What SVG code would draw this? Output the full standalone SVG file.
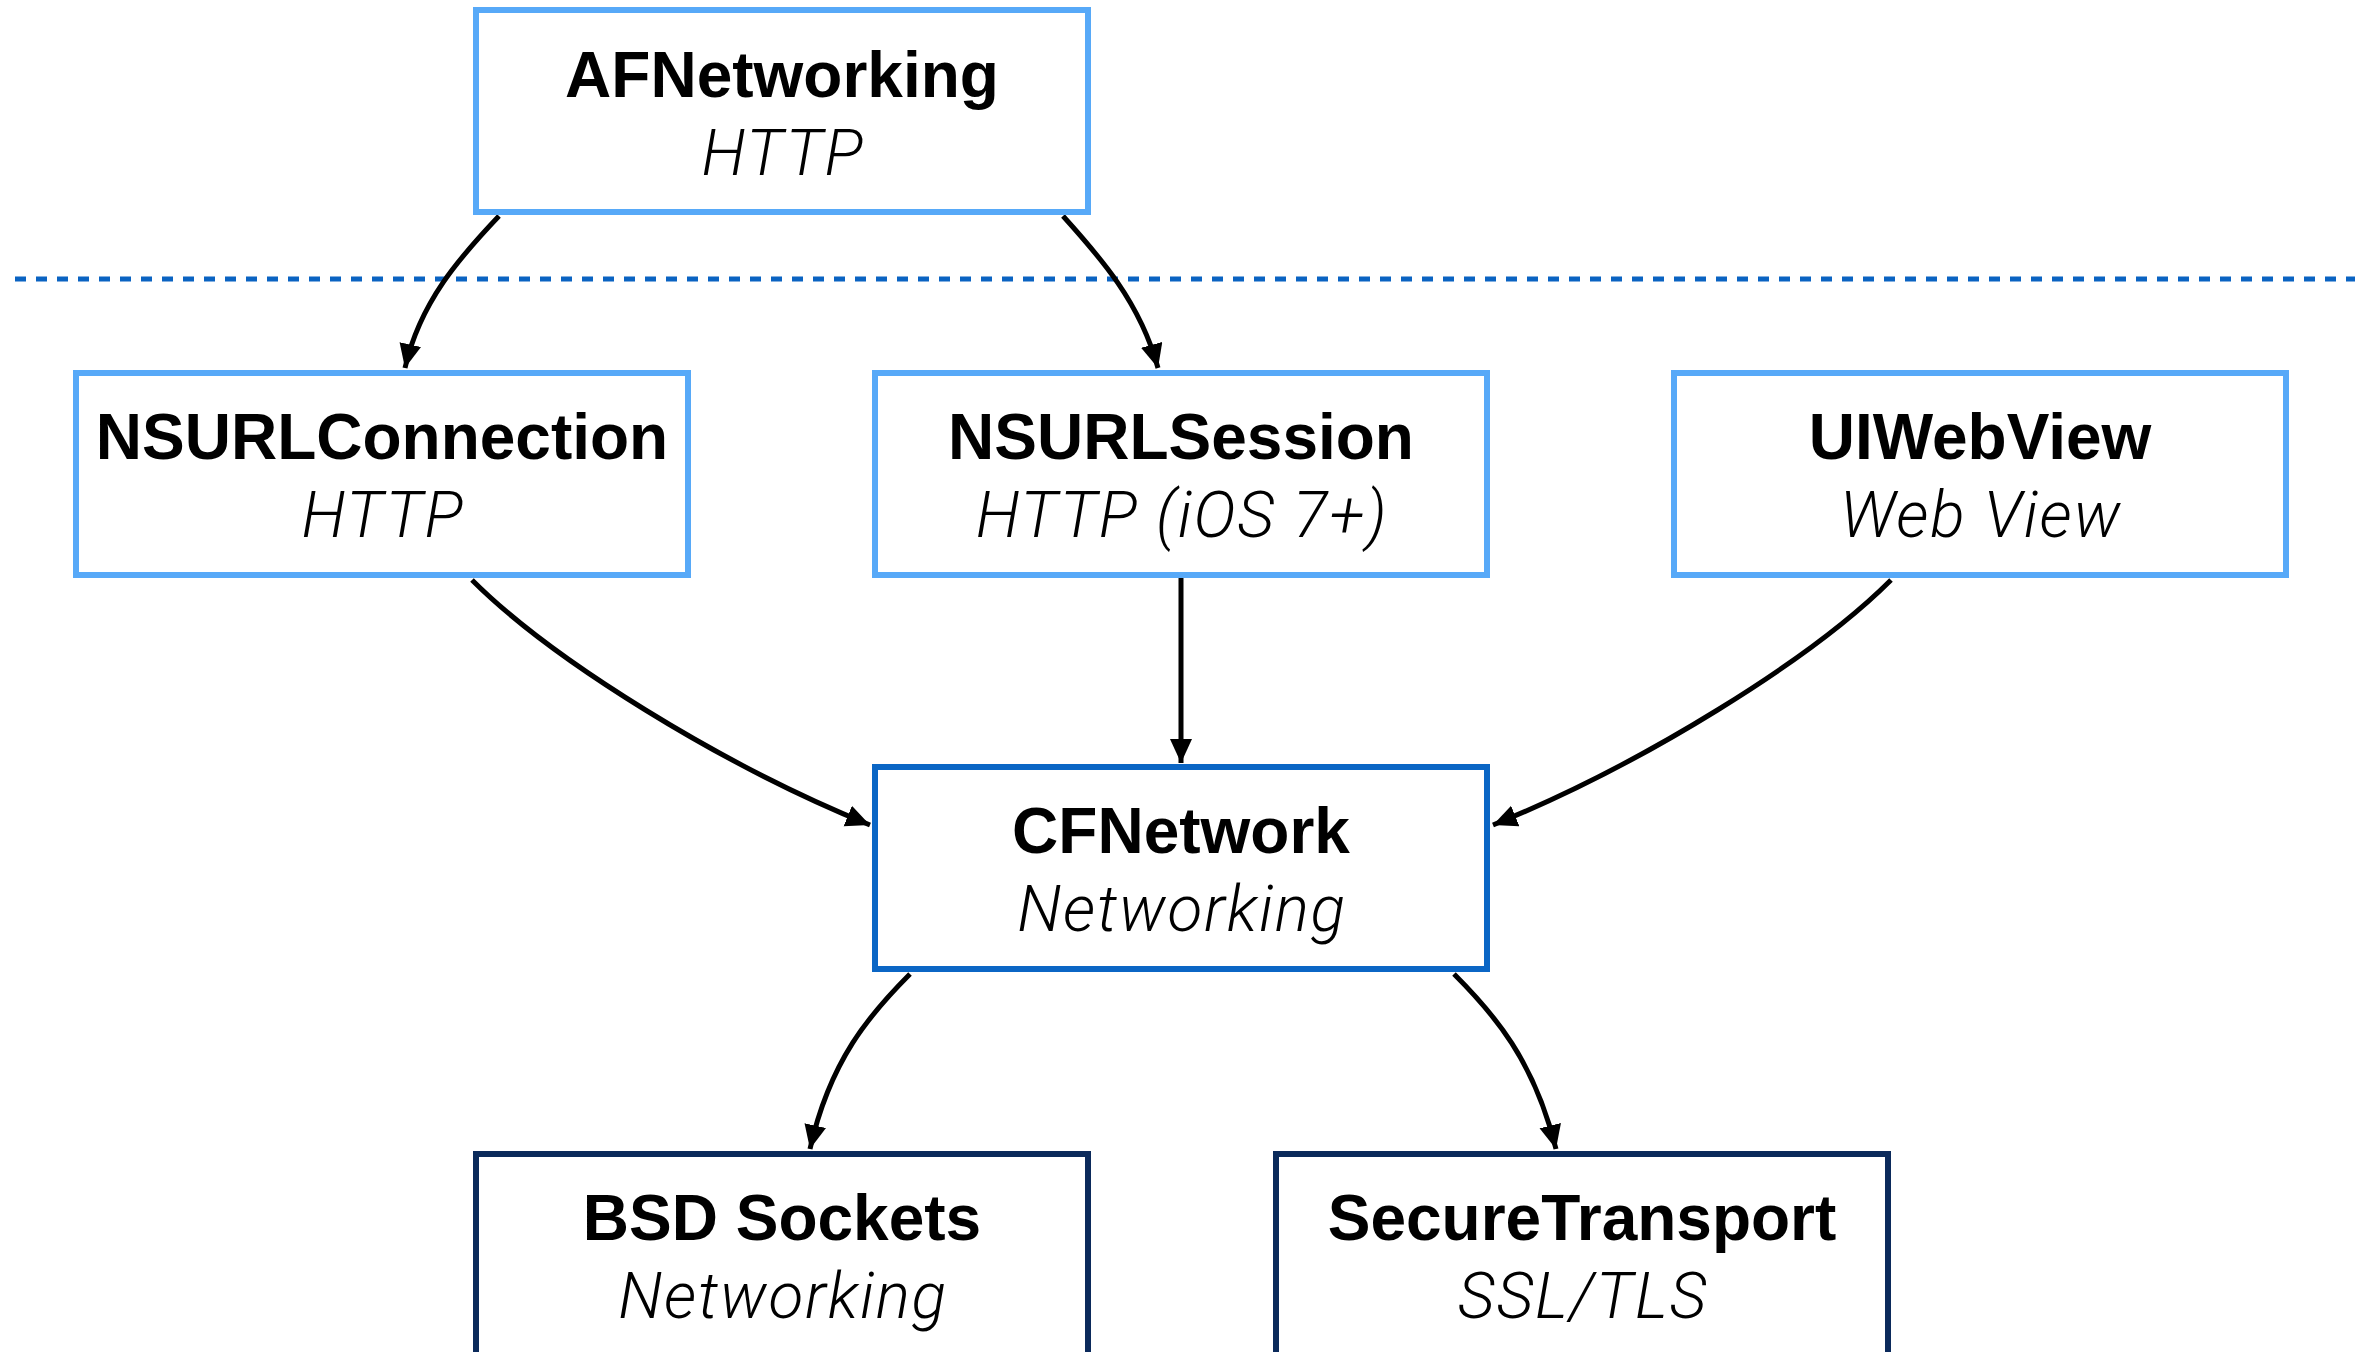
<svg xmlns="http://www.w3.org/2000/svg" width="2355" height="1352" viewBox="0 0 2355 1352">
<defs>
<style>
.box{fill:#ffffff;stroke-width:6}
.light{stroke:#57A9F8}
.mid{stroke:#0B66C5}
.dark{stroke:#0B2A5B}
.t{font-family:"Liberation Sans",Arial,sans-serif;font-weight:bold;font-size:64px;fill:#000;text-anchor:middle}
.s{font-family:Roboto,"Liberation Sans",sans-serif;font-weight:300;font-style:italic;font-size:64px;letter-spacing:1.8px;fill:#000;text-anchor:middle}
.c{fill:none;stroke:#000;stroke-width:5}
</style>
<marker id="arr" markerUnits="userSpaceOnUse" markerWidth="26" markerHeight="24" refX="24" refY="11" orient="auto">
<path d="M0,0 L24,11 L0,22 z" fill="#000"/>
</marker>
</defs>
<rect width="2355" height="1352" fill="#ffffff"/>
<line x1="15" y1="279" x2="2355" y2="279" stroke="#0A63C2" stroke-width="5" stroke-dasharray="11 10"/>
<g id="connectors">
<path class="c" marker-end="url(#arr)" d="M499 216 C460 257 420 302 405 368"/>
<path class="c" marker-end="url(#arr)" d="M1063 216 C1100 257 1140 302 1158 368"/>
<path class="c" marker-end="url(#arr)" d="M472 580 C552 660 722 765 870 825"/>
<path class="c" marker-end="url(#arr)" d="M1891 580 C1811 660 1641 765 1493 825"/>
<path class="c" marker-end="url(#arr)" d="M1181 578 L1181 763"/>
<path class="c" marker-end="url(#arr)" d="M910 974 C870 1014 830 1060 810 1149"/>
<path class="c" marker-end="url(#arr)" d="M1454 974 C1494 1014 1534 1060 1556 1149"/>
</g>
<g id="afnetworking">
<rect class="box light" x="476" y="10" width="612" height="202"/>
<text class="t" x="782" y="97">AFNetworking</text>
<text class="s" x="783" y="175">HTTP</text>
</g>
<g id="nsurlconnection">
<rect class="box light" x="76" y="373" width="612" height="202"/>
<text class="t" x="382" y="459">NSURLConnection</text>
<text class="s" x="383" y="537">HTTP</text>
</g>
<g id="nsurlsession">
<rect class="box light" x="875" y="373" width="612" height="202"/>
<text class="t" x="1181" y="459">NSURLSession</text>
<text class="s" x="1182" y="537">HTTP (iOS 7+)</text>
</g>
<g id="uiwebview">
<rect class="box light" x="1674" y="373" width="612" height="202"/>
<text class="t" x="1980" y="459">UIWebView</text>
<text class="s" x="1981" y="537">Web View</text>
</g>
<g id="cfnetwork">
<rect class="box mid" x="875" y="767" width="612" height="202"/>
<text class="t" x="1181" y="853">CFNetwork</text>
<text class="s" x="1182" y="931">Networking</text>
</g>
<g id="bsdsockets">
<rect class="box dark" x="476" y="1154" width="612" height="230"/>
<text class="t" x="782" y="1240">BSD Sockets</text>
<text class="s" x="783" y="1318">Networking</text>
</g>
<g id="securetransport">
<rect class="box dark" x="1276" y="1154" width="612" height="230"/>
<text class="t" x="1582" y="1240">SecureTransport</text>
<text class="s" x="1583" y="1318">SSL/TLS</text>
</g>
</svg>
